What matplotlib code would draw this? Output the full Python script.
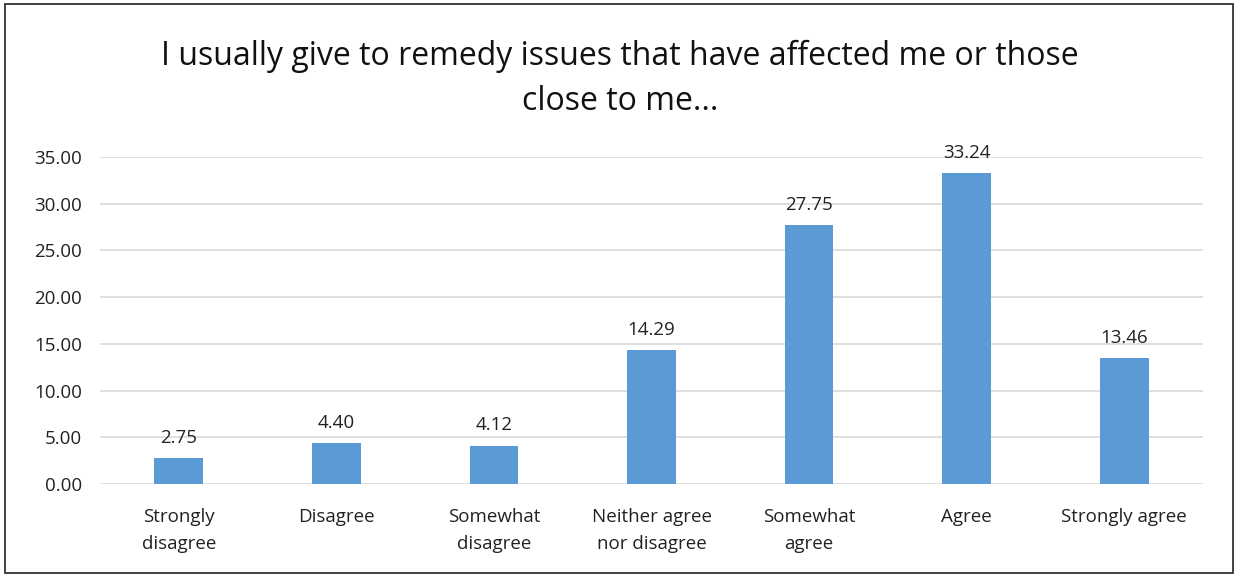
import matplotlib
matplotlib.use("Agg")
import matplotlib.pyplot as plt
from matplotlib.patches import Rectangle

categories = ["Strongly\ndisagree", "Disagree", "Somewhat\ndisagree",
              "Neither agree\nnor disagree", "Somewhat\nagree", "Agree",
              "Strongly agree"]
values = [2.75, 4.40, 4.12, 14.29, 27.75, 33.24, 13.46]
yticks = [0, 5, 10, 15, 20, 25, 30, 35]

plt.rcParams['font.family'] = ['Open Sans', 'DejaVu Sans']

W, H = 1237, 577
fig = plt.figure(figsize=(W / 100, H / 100), dpi=100)
ax = fig.add_axes([100 / W, 1 - 484 / H, 1103 / W, (484 - 157) / H])

x = list(range(len(categories)))
ax.bar(x, values, width=0.31, color='#5B9BD5', zorder=3)
for xi, v in zip(x, values):
    ax.text(xi, v + 1.2, f"{v:.2f}", ha='center', va='bottom', fontsize=13.5,
            color='#222222')

ax.set_xlim(-0.5, 6.5)
ax.set_ylim(0, 35)
ax.set_yticks(yticks)
ax.set_yticklabels([f"{t:.2f}" for t in yticks], fontsize=13.5, color='#222222')
ax.set_xticks(x)
ax.set_xticklabels(categories, fontsize=13.5, color='#222222', linespacing=1.65)
ax.tick_params(axis='y', length=0, pad=13)
ax.tick_params(axis='x', length=0, pad=17)
ax.yaxis.grid(True, color='#d9d9d9', linewidth=1.2, zorder=0)
for s in ax.spines.values():
    s.set_visible(False)

fig.text(620 / W, 1 - 79 / H,
         "I usually give to remedy issues that have affected me or those\nclose to me...",
         ha='center', va='center', fontsize=23, linespacing=1.5, color='#111111')

fig.patches.append(Rectangle((5 / W, 4 / H), 1228 / W, 569 / H, transform=fig.transFigure,
                             fill=False, edgecolor='#333333', linewidth=1.3))

fig.savefig("out.png", dpi=100)
